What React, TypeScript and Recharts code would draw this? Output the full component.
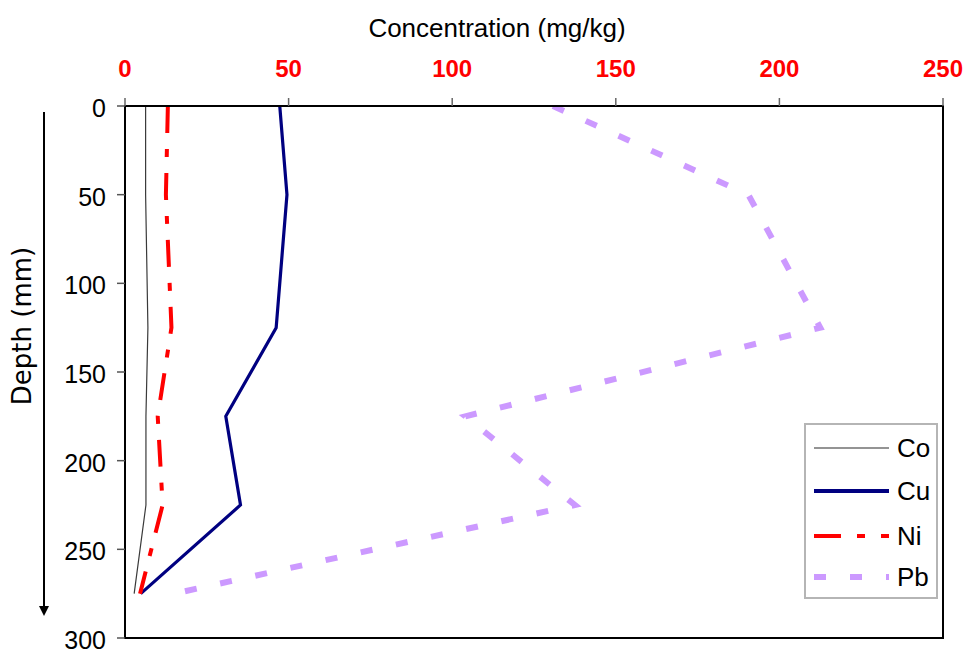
import { LineChart, Line, XAxis, YAxis, ReferenceArea, Legend, Label } from "recharts"

const depths = [0, 50, 125, 175, 225, 275]
const coValues = [6.3, 6.3, 7.0, 6.4, 6.4, 2.8]
const cuValues = [47.3, 49.5, 46.2, 30.8, 35.3, 4.8]
const niValues = [13.1, 12.5, 14.2, 10.0, 11.5, 4.6]
const pbValues = [130.8, 190.5, 212.5, 104, 137.5, 15]

const concentrationTicks = [0, 50, 100, 150, 200, 250]
const depthTicks = [0, 50, 100, 150, 200, 250, 300]

const data = depths.map((depth, i) => ({
  depth,
  Co: coValues[i],
  Cu: cuValues[i],
  Ni: niValues[i],
  Pb: pbValues[i],
}))

const series = [
  { key: "Co", color: "#3a3a3a", width: 1.2, legendColor: "#707070", legendWidth: 1.5, dash: undefined },
  { key: "Cu", color: "#000080", width: 3.2, legendColor: "#000080", legendWidth: 4, dash: undefined },
  { key: "Ni", color: "#ff0000", width: 4, legendColor: "#ff0000", legendWidth: 4, dash: "27 16 8 16" },
  { key: "Pb", color: "#cc99ff", width: 6, legendColor: "#cc99ff", legendWidth: 6, dash: "12 24" },
]

const sans = "'Liberation Sans', Arial, sans-serif"

function LegendBox() {
  const rows = [23, 66, 111, 152]
  return (
    <div
      style={{
        width: 134,
        height: 176,
        boxSizing: "border-box",
        border: "2px solid #b5b5b5",
        background: "#fff",
      }}
    >
      <svg width={130} height={172}>
        {series.map((s, i) => (
          <g key={s.key}>
            <line
              x1={8}
              x2={83}
              y1={rows[i]}
              y2={rows[i]}
              stroke={s.legendColor}
              strokeWidth={s.legendWidth}
              strokeDasharray={s.dash}
            />
            <text x={91} y={rows[i] + 9} fontSize={26} fontFamily={sans} fill="#000">
              {s.key}
            </text>
          </g>
        ))}
      </svg>
    </div>
  )
}

export default function App() {
  return (
    <div style={{ width: 967, height: 653, background: "#fff" }}>
      <style>{`body{margin:0}`}</style>
      <LineChart
        width={967}
        height={653}
        data={data}
        layout="vertical"
        margin={{ top: 0, right: 24, bottom: 15, left: 0 }}
      >
        <XAxis
          type="number"
          orientation="top"
          domain={[0, 250]}
          ticks={concentrationTicks}
          allowDataOverflow
          height={106}
          tickSize={8}
          tickMargin={21}
          axisLine={{ stroke: "#000", strokeWidth: 2 }}
          tickLine={{ stroke: "#666", strokeWidth: 1.5 }}
          tick={{ fill: "#ff0000", fontSize: 24, fontWeight: "bold", fontFamily: sans }}
        >
          <Label
            content={(props: any) => {
              const vb = props.viewBox
              return (
                <text
                  x={vb.x + vb.width / 2 - 37}
                  y={vb.y + 37}
                  textAnchor="middle"
                  fontSize={26}
                  fontFamily={sans}
                  fill="#000"
                >
                  Concentration (mg/kg)
                </text>
              )
            }}
          />
        </XAxis>
        <YAxis
          type="number"
          dataKey="depth"
          domain={[0, 300]}
          ticks={depthTicks}
          allowDataOverflow
          width={125}
          tickSize={8}
          tickMargin={11}
          axisLine={{ stroke: "#000", strokeWidth: 2 }}
          tickLine={{ stroke: "#555", strokeWidth: 1.5 }}
          tick={{ fill: "#000", fontSize: 25, fontFamily: sans, dy: 2 }}
        >
          <Label
            content={(props: any) => {
              const vb = props.viewBox
              const cx = 22
              const cy = vb.y + vb.height / 2 - 46
              const ax = 44
              const top = vb.y + 6
              const tip = vb.y + vb.height - 22
              return (
                <g>
                  <text
                    x={cx}
                    y={cy}
                    transform={`rotate(-90 ${cx} ${cy})`}
                    textAnchor="middle"
                    dominantBaseline="central"
                    fontSize={26}
                    fontFamily="'DejaVu Sans', Verdana, sans-serif"
                    fill="#000"
                  >
                    Depth (mm)
                  </text>
                  <line x1={ax} x2={ax} y1={top} y2={tip - 9} stroke="#000" strokeWidth={2} />
                  <polygon points={`${ax},${tip} ${ax - 5},${tip - 10} ${ax + 5},${tip - 10}`} fill="#000" />
                </g>
              )
            }}
          />
        </YAxis>
        <ReferenceArea
          x1={0}
          x2={250}
          y1={0}
          y2={300}
          fill="none"
          fillOpacity={0}
          stroke="#000"
          strokeWidth={2}
          ifOverflow="visible"
        />
        {series.map((s) => (
          <Line
            key={s.key}
            dataKey={s.key}
            name={s.key}
            type="linear"
            stroke={s.color}
            strokeWidth={s.width}
            strokeDasharray={s.dash}
            strokeLinecap="butt"
            strokeLinejoin="miter"
            dot={false}
            activeDot={false}
            isAnimationActive={false}
          />
        ))}
        <Legend
          layout="vertical"
          align="center"
          verticalAlign="middle"
          wrapperStyle={{ left: 804, top: 423, width: 134, height: 176 }}
          content={() => <LegendBox />}
        />
      </LineChart>
    </div>
  )
}
